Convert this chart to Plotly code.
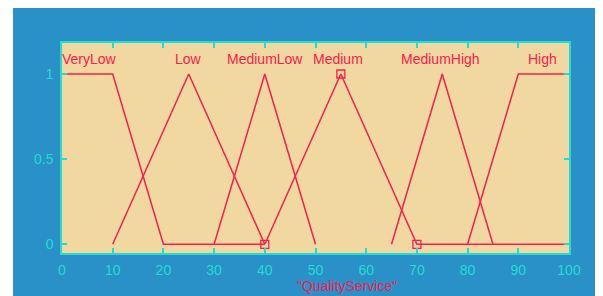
import plotly.graph_objects as go

# Membership functions of "QualityService"
mf_names = ["VeryLow", "Low", "MediumLow", "Medium", "MediumHigh", "High"]
mf_x = {
    "VeryLow":    [0, 10, 20, 40],
    "Low":        [10, 25, 40],
    "MediumLow":  [30, 40, 50],
    "Medium":     [40, 55, 70, 100],
    "MediumHigh": [65, 75, 85],
    "High":       [80, 90, 100],
}
mf_y = {
    "VeryLow":    [1, 1, 0, 0],
    "Low":        [0, 1, 0],
    "MediumLow":  [0, 1, 0],
    "Medium":     [0, 1, 0, 0],
    "MediumHigh": [0, 1, 0],
    "High":       [0, 1, 1],
}
label_x = [5.5, 25, 40, 54.5, 74.7, 94.7]
handle_x = [40, 55, 70]
handle_y = [0, 1, 0]
x_ticks = [0, 10, 20, 30, 40, 50, 60, 70, 80, 90, 100]
y_ticks = [0, 0.5, 1]
y_tick_text = ["0", "0.5", "1"]
var_name = '"QualityService"'

RED = "#F5204F"
CYAN = "#22DDD0"
BLUE = "#2A90C8"
TAN = "#F1D8A0"
FONT = "Liberation Sans, Arial, sans-serif"

fig = go.Figure()
for n in mf_names:
    fig.add_trace(go.Scatter(x=mf_x[n], y=mf_y[n], mode="lines",
                             line=dict(color=RED, width=1.5), hoverinfo="skip"))
fig.add_trace(go.Scatter(x=handle_x, y=handle_y, mode="markers",
                         marker=dict(symbol="square-open", size=8, color=RED,
                                     line=dict(width=1.3, color=RED))))

for n, lx in zip(mf_names, label_x):
    fig.add_annotation(x=lx, y=1.09, xref="x", yref="y", text=n, showarrow=False,
                       font=dict(family=FONT, size=14, color=RED),
                       xanchor="center", yanchor="middle")

fig.add_annotation(x=0.563, y=-0.157, xref="paper", yref="paper", text=var_name,
                   showarrow=False, font=dict(family=FONT, size=14, color=RED),
                   xanchor="center", yanchor="middle")

# white strip on the left
fig.add_shape(type="rect", xref="paper", yref="paper", x0=-0.3, x1=-0.0966,
              y0=-0.5, y1=1.5, fillcolor="white", line=dict(width=0), layer="below")

axis_common = dict(showgrid=False, zeroline=False, showline=True, linecolor=CYAN,
                   linewidth=1.5, mirror="ticks", ticks="inside", ticklen=5,
                   tickcolor=CYAN, tickwidth=1.5,
                   tickfont=dict(family=FONT, size=14, color=CYAN))

fig.update_xaxes(range=[0, 100], tickvals=x_ticks, ticklabelstandoff=3, **axis_common)
fig.update_yaxes(range=[-0.051, 1.182], tickvals=y_ticks, ticktext=y_tick_text,
                 ticklabelstandoff=4, **axis_common)

fig.update_layout(width=595, height=288, margin=dict(l=54, r=34, t=35, b=43),
                  paper_bgcolor=BLUE, plot_bgcolor=TAN, showlegend=False)

fig.write_html("out.html")
